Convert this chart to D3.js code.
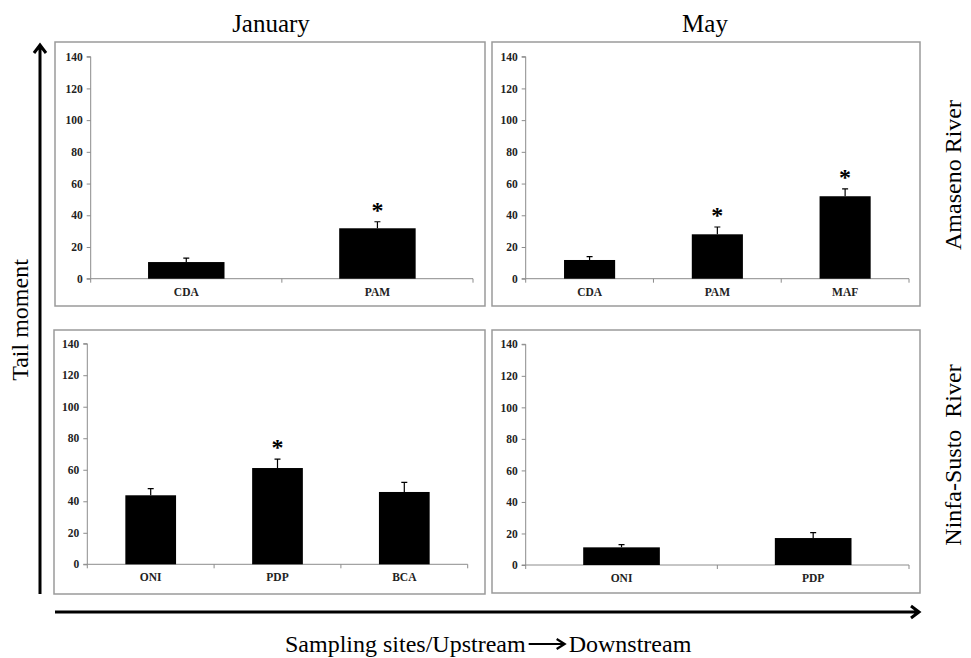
<!DOCTYPE html>
<html>
<head>
<meta charset="utf-8">
<script src="https://cdn.jsdelivr.net/npm/d3@7"></script>
<style>
  body { margin: 0; background: #fff; }
  svg { display: block; font-family: "Liberation Serif", "Times New Roman", serif; }
</style>
</head>
<body>
<script>
// tail moment per sampling site (mean, error bar, significance)
const janAmasenoSites = ["CDA", "PAM"];
const janAmasenoMean = [10.5, 31.8];
const janAmasenoErr = [2.5, 4.1];
const janAmasenoSig = [false, true];

const mayAmasenoSites = ["CDA", "PAM", "MAF"];
const mayAmasenoMean = [11.8, 28, 52];
const mayAmasenoErr = [2.1, 4.6, 4.7];
const mayAmasenoSig = [false, true, true];

const janNinfaSites = ["ONI", "PDP", "BCA"];
const janNinfaMean = [43.8, 61.1, 45.9];
const janNinfaErr = [4.2, 5.7, 6.1];
const janNinfaSig = [false, true, false];

const mayNinfaSites = ["ONI", "PDP"];
const mayNinfaMean = [11.2, 17.1];
const mayNinfaErr = [1.7, 3.4];
const mayNinfaSig = [false, false];

const yTicks = [0, 20, 40, 60, 80, 100, 120, 140];
const months = ["January", "May"];
const rivers = ["Amaseno River", "Ninfa-Susto\u00a0\u00a0River"];

const svg = d3.select("body").append("svg")
    .attr("width", 971)
    .attr("height", 658);

// panel frames and plot areas
const panels = [
  {sites: janAmasenoSites, mean: janAmasenoMean, err: janAmasenoErr, sig: janAmasenoSig,
   box: [55, 42, 485, 306], plot: [90.7, 473, 278.7, 56.7]},
  {sites: mayAmasenoSites, mean: mayAmasenoMean, err: mayAmasenoErr, sig: mayAmasenoSig,
   box: [492, 42, 920, 306], plot: [525.7, 909, 278.7, 56.7]},
  {sites: janNinfaSites, mean: janNinfaMean, err: janNinfaErr, sig: janNinfaSig,
   box: [54, 330, 485, 594], plot: [87.3, 467.7, 564.3, 343.7]},
  {sites: mayNinfaSites, mean: mayNinfaMean, err: mayNinfaErr, sig: mayNinfaSig,
   box: [492, 330, 920, 593], plot: [525.7, 909, 565, 344.3]}
];

panels.forEach(p => {
  const [bx0, by0, bx1, by1] = p.box;
  svg.append("rect")
      .attr("x", bx0).attr("y", by0)
      .attr("width", bx1 - bx0).attr("height", by1 - by0)
      .attr("fill", "none")
      .attr("stroke", "#9a9a9a")
      .attr("stroke-width", 1.5);

  const [px0, px1, py0, py1] = p.plot;
  const x = d3.scaleBand().domain(p.sites).range([px0, px1]).paddingInner(0.6).paddingOuter(0.3);
  const y = d3.scaleLinear().domain([0, 140]).range([py0, py1]);
  const step = x.step();

  // y axis
  const ya = svg.append("g")
      .attr("transform", `translate(${px0},0)`)
      .call(d3.axisLeft(y).tickValues(yTicks).tickSize(4).tickPadding(4));
  ya.selectAll("path, line").attr("stroke", "#8c8c8c");
  ya.select(".domain").attr("d", `M-4,${py1}H0V${py0}H-4`);
  ya.selectAll("text")
      .attr("font-family", "Liberation Serif")
      .attr("font-size", 11.5)
      .attr("font-weight", "bold")
      .attr("fill", "#222");

  // x axis: line with ticks at category boundaries
  const xa = svg.append("g")
      .attr("transform", `translate(0,${py0})`)
      .call(d3.axisBottom(x).tickSize(0).tickPadding(9));
  xa.select(".domain").attr("stroke", "#8c8c8c").attr("d", `M${px0},0H${px1}`);
  xa.selectAll("text")
      .attr("font-family", "Liberation Serif")
      .attr("font-size", 11.5)
      .attr("font-weight", "bold")
      .attr("fill", "#222");
  xa.selectAll(".bound")
      .data(d3.range(p.sites.length + 1))
      .join("line")
      .attr("class", "bound")
      .attr("x1", i => px0 + i * step).attr("x2", i => px0 + i * step)
      .attr("y1", 0).attr("y2", 4)
      .attr("stroke", "#8c8c8c");

  const rows = p.sites.map((s, i) => ({site: s, mean: p.mean[i], err: p.err[i], sig: p.sig[i]}));
  const g = svg.append("g");

  // error bars (upper only)
  g.selectAll(".eb")
    .data(rows)
    .join("path")
      .attr("class", "eb")
      .attr("fill", "none")
      .attr("stroke", "#000")
      .attr("stroke-width", 1.2)
      .attr("d", d => {
        const cx = x(d.site) + x.bandwidth() / 2;
        const top = y(d.mean + d.err);
        return `M${cx},${y(d.mean)}V${top}M${cx - 3},${top}H${cx + 3}`;
      });

  g.selectAll(".bar")
    .data(rows)
    .join("rect")
      .attr("class", "bar")
      .attr("x", d => x(d.site))
      .attr("y", d => y(d.mean))
      .attr("width", x.bandwidth())
      .attr("height", d => py0 - y(d.mean))
      .attr("fill", "#000");

  g.selectAll(".star")
    .data(rows.filter(d => d.sig))
    .join("text")
      .attr("class", "star")
      .attr("x", d => x(d.site) + x.bandwidth() / 2)
      .attr("y", d => y(d.mean + d.err) - 4)
      .attr("text-anchor", "middle")
      .attr("font-size", 24)
      .attr("font-weight", "bold")
      .text("*");
});

// column titles
svg.selectAll(".month")
  .data(months)
  .join("text")
    .attr("class", "month")
    .attr("x", (d, i) => [271, 705][i])
    .attr("y", 32)
    .attr("text-anchor", "middle")
    .attr("font-size", 25)
    .text(d => d);

// row labels on the right
svg.selectAll(".river")
  .data(rivers)
  .join("text")
    .attr("class", "river")
    .attr("transform", (d, i) => `translate(961,${[175, 455][i]}) rotate(-90)`)
    .attr("text-anchor", "middle")
    .attr("font-size", 24)
    .text(d => d);

// y title
svg.append("text")
    .attr("transform", "translate(28,320) rotate(-90)")
    .attr("text-anchor", "middle")
    .attr("font-size", 24)
    .text("Tail moment");

// big arrows
svg.append("path")
    .attr("d", "M40,594V45M34,53L40,45L46,53")
    .attr("fill", "none")
    .attr("stroke", "#000")
    .attr("stroke-width", 3);
svg.append("path")
    .attr("d", "M55,612H919M911,606L919,612L911,618")
    .attr("fill", "none")
    .attr("stroke", "#000")
    .attr("stroke-width", 3);

// bottom caption with arrow
const cap = svg.append("g").attr("font-size", 24);
const left = cap.append("text").attr("x", 285).attr("y", 652).text("Sampling sites/Upstream");
const lw = left.node().getComputedTextLength();
const ax0 = 285 + lw + 3, ax1 = ax0 + 36;
cap.append("path")
    .attr("d", `M${ax0},644H${ax1 - 2}M${ax1 - 8},639L${ax1},644L${ax1 - 8},649`)
    .attr("fill", "none")
    .attr("stroke", "#000")
    .attr("stroke-width", 2.2);
cap.append("text").attr("x", ax1 + 4).attr("y", 652).text("Downstream");
</script>
</body>
</html>
